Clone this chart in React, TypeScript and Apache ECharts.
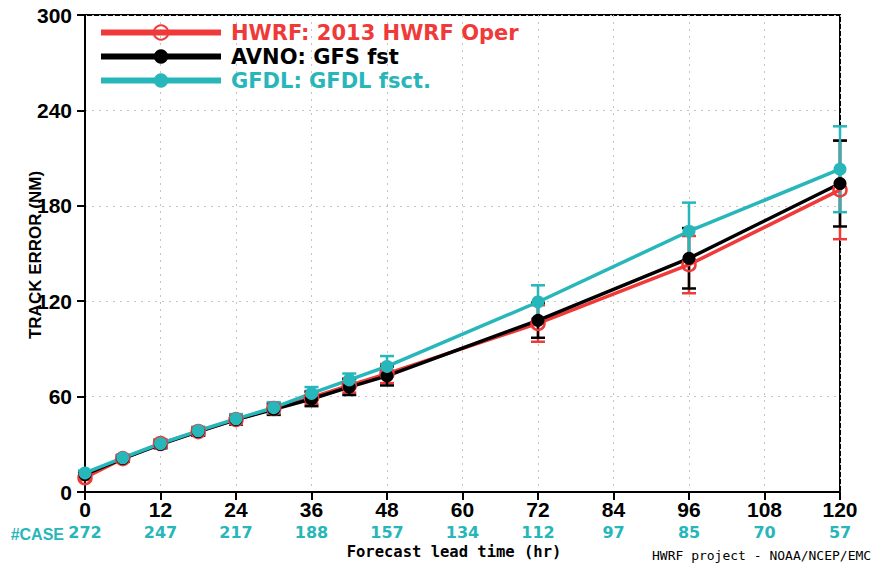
import React, { useEffect, useRef } from "react";
import * as echarts from "echarts";

const hours = [0, 6, 12, 18, 24, 30, 36, 42, 48, 72, 96, 120];
const hwrf = [9, 21, 30.5, 38, 45.5, 52.5, 59.5, 67, 74.5, 106, 143, 190];
const gfs = [11, 21, 30, 38, 45.5, 52, 58.5, 66, 73, 108, 147, 194];
const gfdl = [12, 21.5, 30.5, 38.5, 46, 53, 62, 70.5, 79, 119.5, 164, 203];
const hwrfErr = [1.5, 2, 2.5, 2.5, 3, 3.5, 4, 4.5, 6, 11.5, 18, 31];
const gfsErr = [1.5, 2, 2.5, 2.5, 3, 3.5, 4.5, 5, 6, 11, 19, 27];
const gfdlErr = [1.5, 2, 2.5, 2.5, 3, 3.5, 4, 4, 6.5, 10.5, 18, 27];
const caseHours = [0, 12, 24, 36, 48, 60, 72, 84, 96, 108, 120];
const caseCounts = [272, 247, 217, 188, 157, 134, 112, 97, 85, 70, 57];
const names = ["HWRF: 2013 HWRF Oper", "AVNO: GFS fst", "GFDL: GFDL fsct."];

const RED = "#f03a3a";
const BLACK = "#000000";
const CYAN = "#27b6b9";

function errSeries(name: string, vals: number[], err: number[], color: string) {
  return {
    type: "custom",
    name: name + " err",
    data: hours.map((h, i) => [h, vals[i] - err[i], vals[i] + err[i]]),
    encode: { x: 0, y: [1, 2] },
    renderItem: (params: any, api: any) => {
      const x = api.value(0);
      const lo = api.coord([x, api.value(1)]);
      const hi = api.coord([x, api.value(2)]);
      const w = 7;
      const st = { stroke: color, lineWidth: 2.5 };
      return {
        type: "group",
        children: [
          { type: "line", shape: { x1: lo[0], y1: lo[1], x2: hi[0], y2: hi[1] }, style: st },
          { type: "line", shape: { x1: lo[0] - w, y1: lo[1], x2: lo[0] + w, y2: lo[1] }, style: st },
          { type: "line", shape: { x1: hi[0] - w, y1: hi[1], x2: hi[0] + w, y2: hi[1] }, style: st },
        ],
      };
    },
    z: 2,
  };
}

function lineSeries(name: string, vals: number[], color: string, hollow: boolean) {
  return {
    type: "line",
    name,
    data: hours.map((h, i) => [h, vals[i]]),
    symbol: "circle",
    symbolSize: 13,
    showSymbol: true,
    lineStyle: { color, width: 3.5 },
    itemStyle: hollow
      ? { color: "rgba(255,255,255,0)", borderColor: color, borderWidth: 2.5 }
      : { color, borderColor: color, borderWidth: 0 },
    z: 3,
  };
}

export default function App() {
  const ref = useRef<HTMLDivElement>(null);
  useEffect(() => {
    const chart = echarts.init(ref.current!, null, { renderer: "svg" });
    const option: any = {
      animation: false,
      grid: {
        left: 85,
        right: 32,
        top: 15,
        bottom: 71,
        show: true,
        borderColor: "#000",
        borderWidth: 2,
        backgroundColor: "transparent",
      },
      xAxis: {
        type: "value",
        min: 0,
        max: 120,
        interval: 12,
        axisLine: { lineStyle: { color: "#000", width: 2 } },
        axisTick: { length: 8, lineStyle: { color: "#000", width: 2 } },
        splitLine: { show: true, lineStyle: { color: "#c4c4c4", type: [2, 5], width: 1 } },
        axisLabel: {
          margin: 6,
          formatter: (v: number) => {
            const idx = caseHours.indexOf(v);
            return `{t|${v}}\n{c|${idx >= 0 ? caseCounts[idx] : ""}}`;
          },
          rich: {
            t: { fontFamily: "Liberation Sans", fontWeight: "bold", fontSize: 21, color: "#000", lineHeight: 23 },
            c: { fontFamily: "DejaVu Sans", fontWeight: "bold", fontSize: 16, color: CYAN, lineHeight: 23 },
          },
        },
      },
      yAxis: {
        type: "value",
        min: 0,
        max: 300,
        interval: 60,
        axisLine: { show: true, lineStyle: { color: "#000", width: 2 } },
        axisTick: { show: true, length: 8, lineStyle: { color: "#000", width: 2 } },
        splitLine: { show: true, lineStyle: { color: "#c4c4c4", type: [2, 5], width: 1 } },
        axisLabel: {
          margin: 13,
          fontFamily: "Liberation Sans",
          fontWeight: "bold",
          fontSize: 21,
          color: "#000",
        },
      },
      legend: {
        orient: "vertical",
        left: 93,
        top: 17,
        itemWidth: 120,
        itemHeight: 18,
        itemGap: 3,
        lineStyle: { width: 6 },
        textStyle: {
          fontFamily: "DejaVu Sans",
          fontWeight: "bold",
          fontSize: 21,
          lineHeight: 16,
          padding: [0, 0, 0, 5],
        },
        data: [
          { name: names[0], textStyle: { color: RED } },
          { name: names[1], textStyle: { color: BLACK } },
          { name: names[2], textStyle: { color: CYAN } },
        ],
      },
      graphic: [
        {
          type: "text",
          x: 35,
          y: 255,
          rotation: Math.PI / 2,
          style: {
            text: "TRACK ERROR (NM)",
            fontFamily: "Liberation Sans",
            fontWeight: "bold",
            fontSize: 17,
            fill: "#000",
            align: "center",
            verticalAlign: "middle",
          },
        },
        {
          type: "text",
          x: 64,
          y: 534,
          style: {
            text: "#CASE",
            fontFamily: "Liberation Sans",
            fontWeight: "bold",
            fontSize: 16,
            fill: CYAN,
            align: "right",
            verticalAlign: "middle",
          },
        },
        {
          type: "text",
          x: 454,
          y: 552,
          style: {
            text: "Forecast lead time (hr)",
            fontFamily: "DejaVu Sans Mono",
            fontWeight: "bold",
            fontSize: 15.5,
            fill: "#000",
            align: "center",
            verticalAlign: "middle",
          },
        },
        {
          type: "text",
          x: 652,
          y: 555,
          style: {
            text: "HWRF project - NOAA/NCEP/EMC",
            fontFamily: "DejaVu Sans Mono",
            fontSize: 13,
            fill: "#000",
            align: "left",
            verticalAlign: "middle",
          },
        },
      ],
      series: [
        errSeries(names[0], hwrf, hwrfErr, RED),
        lineSeries(names[0], hwrf, RED, true),
        errSeries(names[1], gfs, gfsErr, BLACK),
        lineSeries(names[1], gfs, BLACK, false),
        errSeries(names[2], gfdl, gfdlErr, CYAN),
        lineSeries(names[2], gfdl, CYAN, false),
      ],
    };
    chart.setOption(option);
    return () => chart.dispose();
  }, []);
  return <div ref={ref} style={{ width: 872, height: 563, position: "absolute", left: 0, top: 0 }} />;
}
